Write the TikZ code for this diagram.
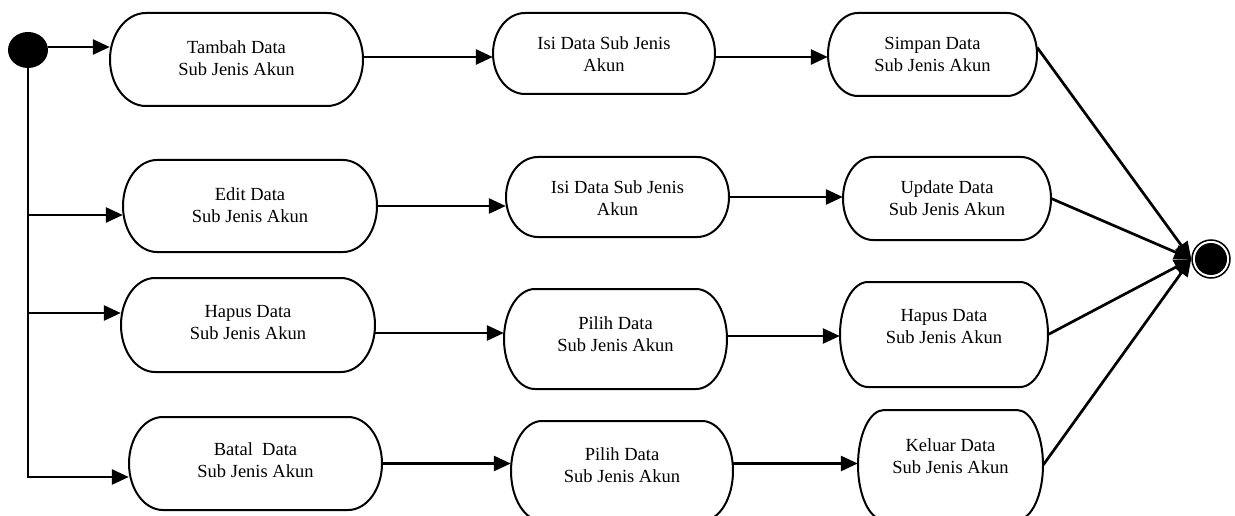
\documentclass[tikz,border=0pt]{standalone}
\usepackage{fontspec}
\setmainfont{Liberation Serif}
\usetikzlibrary{arrows.meta,shapes.geometric,calc}

\tikzset{
  boxline/.style={line width=2pt},
  conn/.style={line width=2.7pt},
  arr/.style={conn, -{Triangle[length=17pt,width=15pt]}},
  actbox/.style={rectangle, draw=none, inner sep=0pt},
  acttext/.style={align=center, font=\fontsize{18.5}{22}\selectfont, inner sep=0pt},
  startnode/.style={ellipse, fill=black, minimum width=40pt, minimum height=36pt, inner sep=0pt},
  endnode/.style={circle, draw=black, line width=1.5pt, minimum size=38pt, inner sep=0pt},
}

% #1 name, #2 x1, #3 y1, #4 x2, #5 y2, #6 corner x radius, #7 text shift, #8 text
\newcommand\actbox[8]{%
  \pgfmathsetmacro\abW{#4-#2}%
  \pgfmathsetmacro\abH{#5-#3}%
  \pgfmathsetmacro\abX{(#2+#4)/2}%
  \pgfmathsetmacro\abY{(#3+#5)/2}%
  \pgfmathsetmacro\abR{\abH/2}%
  \node[actbox, minimum width=\abW pt, minimum height=\abH pt,
        label={[acttext, yshift=#7pt]center:{#8}}] (#1) at (\abX,\abY) {};
  \draw[boxline] ({#2+#6},#3) -- ({#4-#6},#3)
     arc[start angle=90, end angle=-90, x radius=#6pt, y radius=\abR pt]
     -- ({#2+#6},#5)
     arc[start angle=270, end angle=90, x radius=#6pt, y radius=\abR pt] -- cycle;
}

\begin{document}
\begin{tikzpicture}[x=1pt, y=-1pt]
\useasboundingbox (0,0) rectangle (1235,516);
\clip (0,0) rectangle (1235,516);

% start / end
\node[startnode] (start) at (28,50) {};
\node[endnode] (end) at (1211,259) {};
\fill (end.center) circle (16pt);

% column 1
\actbox{A}{110}{13}{363}{106}{36}{1.5}{Tambah Data\\Sub Jenis Akun}
\actbox{E}{123}{160}{377}{252}{34}{1}{Edit Data\\Sub Jenis Akun}
\actbox{H1}{121}{278}{375}{372}{34}{2}{Hapus Data\\Sub Jenis Akun}
\actbox{B}{129}{417}{382}{510}{34}{3}{Batal\ \ Data\\Sub Jenis Akun}

% column 2
\actbox{M1}{493}{13}{715}{94}{32}{-1}{Isi Data Sub Jenis\\Akun}
\actbox{M2}{506}{157}{729}{237}{32}{-1}{Isi Data Sub Jenis\\Akun}
\actbox{M3}{504}{289}{727}{389}{31}{5}{Pilih Data\\Sub Jenis Akun}
\actbox{M4}{511}{421}{733}{521}{31}{6}{Pilih Data\\Sub Jenis Akun}

% column 3
\actbox{S}{828}{13}{1037}{96}{30}{0}{Simpan Data\\Sub Jenis Akun}
\actbox{U}{843}{157}{1051}{240}{30}{0}{Update Data\\Sub Jenis Akun}
\actbox{H2}{840}{282}{1048}{387}{28}{7.5}{Hapus Data\\Sub Jenis Akun}
\actbox{K}{858}{410}{1043}{520}{26}{9}{Keluar Data\\Sub Jenis Akun}

% trunk from start
\coordinate (s0) at ([yshift=3pt]start.east);
\coordinate (jE) at (28,215);
\coordinate (jH) at (28,313);
\coordinate (jB) at (28,477);
\draw[arr] (s0) -- (s0 -| A.west);
\draw[arr] (start.south) |- (B.west |- jB);
\draw[arr] (jE) -- (jE -| E.west);
\draw[arr] (jH) -- (jH -| H1.west);

% row connectors
\coordinate (a0) at ([yshift=2.5pt]A.east);
\draw[arr] (a0) -- (a0 -| M1.west);
\draw[arr] (a0 -| M1.east) -- (a0 -| S.west);
\draw[arr] (E.east) -- (E.east -| M2.west);
\draw[arr] (M2.east) -- (M2.east -| U.west);
\coordinate (h0) at ([yshift=-8pt]H1.east);
\draw[arr] (h0) -- (h0 -| M3.west);
\coordinate (m3) at ([yshift=3pt]M3.east);
\draw[arr] (m3) -- (m3 -| H2.west);
\draw[arr] (B.east) -- (B.east -| M4.west);
\draw[arr] (M4.east |- B.east) -- (B.east -| K.west);

% to end
\draw[arr] ([yshift=7pt]S.east) -- (end.west);
\draw[arr] (U.east) -- (end.west);
\draw[arr] (H2.east) -- (end.west);
\draw[arr] (K.east) -- (end.west);
\end{tikzpicture}
\end{document}
